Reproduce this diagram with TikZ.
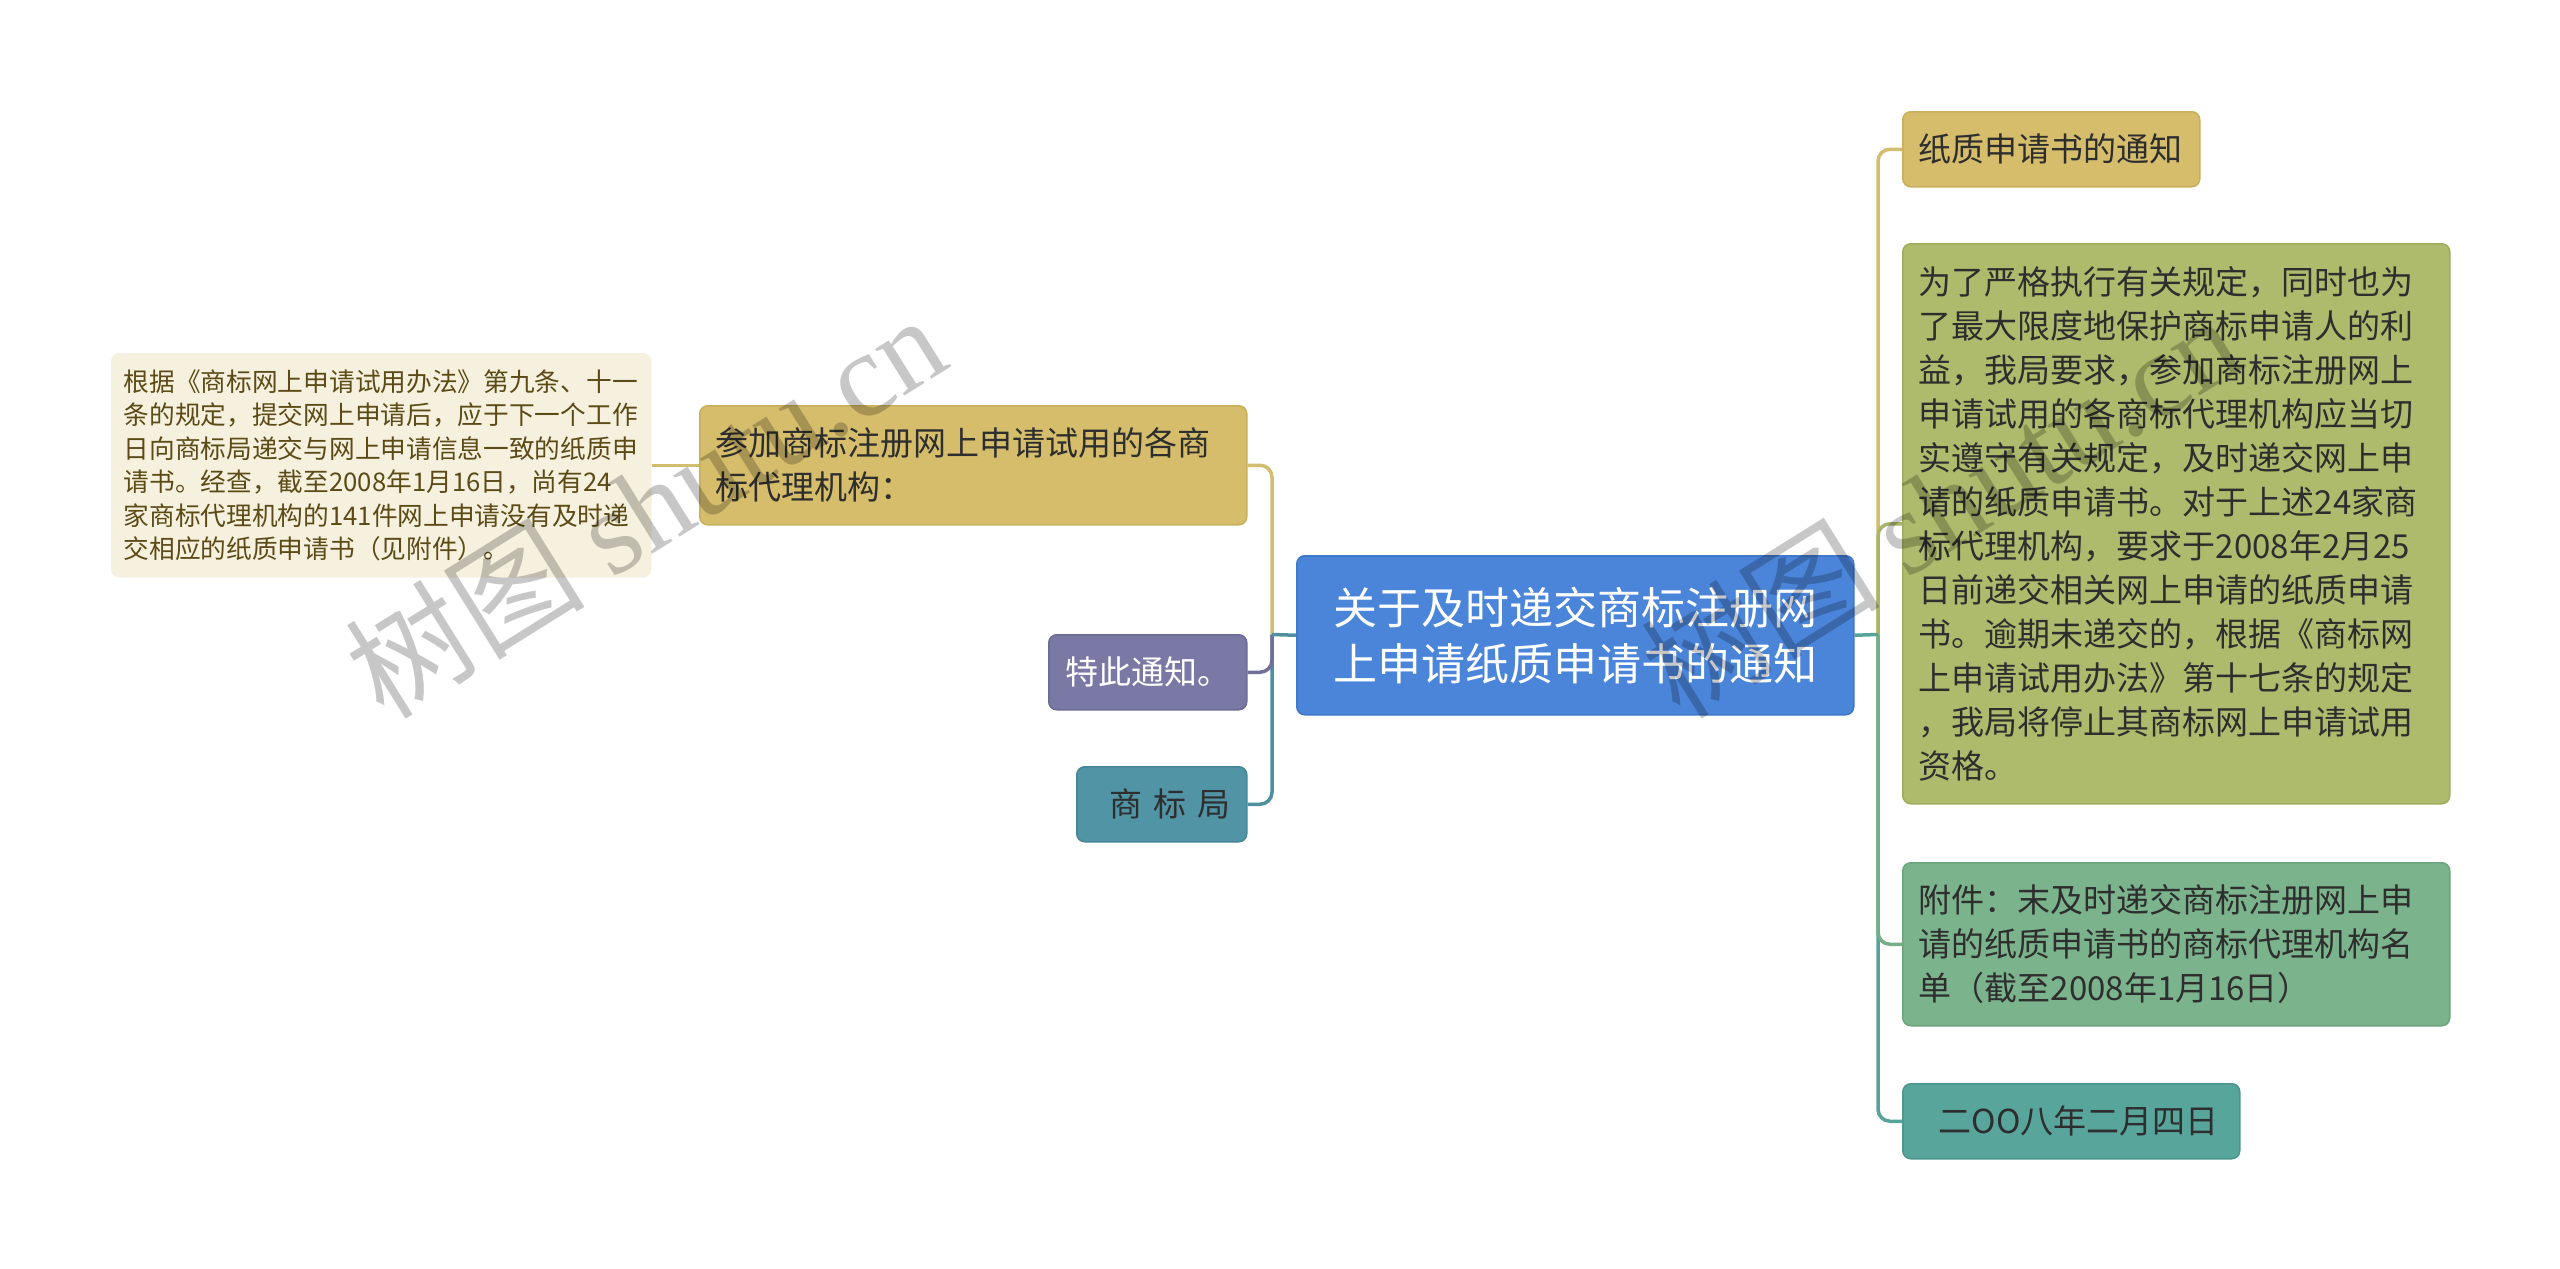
\documentclass[tikz,border=0pt]{standalone}
\usepackage{fontspec}
\setmainfont{Noto Sans CJK SC}
\newfontfamily\wmserif{Liberation Serif}
\definecolor{cblue}{HTML}{4A85DA}
\definecolor{cblueD}{HTML}{3F77C8}
\definecolor{cgold}{HTML}{D5BD6B}
\definecolor{cgoldD}{HTML}{C8AF5A}
\definecolor{cpurple}{HTML}{7A79A5}
\definecolor{cpurpleD}{HTML}{6C6B96}
\definecolor{cteal}{HTML}{5094A6}
\definecolor{ctealD}{HTML}{448597}
\definecolor{ccream}{HTML}{F5F1DE}
\definecolor{colive}{HTML}{AEBA6C}
\definecolor{coliveD}{HTML}{9FAC5E}
\definecolor{cgreen}{HTML}{7BB38C}
\definecolor{cgreenD}{HTML}{6CA57D}
\definecolor{cteal2}{HTML}{58A59C}
\definecolor{cteal2D}{HTML}{4B978E}
\definecolor{ldark}{HTML}{2E2E2E}
\definecolor{lbrown}{HTML}{5C4B17}
\definecolor{kgold}{HTML}{D3BD6F}
\definecolor{kteal}{HTML}{4F8FA0}
\definecolor{kpurple}{HTML}{716F9A}
\definecolor{kteal2}{HTML}{57A39A}
\definecolor{kolive}{HTML}{A9B56C}
\definecolor{kgreen}{HTML}{74AF88}
\begin{document}
\begin{tikzpicture}[x=1pt,y=-1pt,
  box/.style={rounded corners=8pt, line width=1.5pt, anchor=north west,
    inner xsep=16pt, inner ysep=0pt, align=left, text=ldark,
    font=\fontsize{33pt}{44pt}\selectfont},
  conn/.style={line width=3.5pt},
  wm/.style={text=black, opacity=0.22, rotate=32,
    font=\fontsize{120pt}{130pt}\selectfont}]
\useasboundingbox (0,0) rectangle (2560,1269);

% nodes
\node[box, fill=cblue, draw=cblueD, text=white, align=center,
  minimum width=557pt, minimum height=159pt, text width=525pt,
  font=\fontsize{44pt}{56pt}\selectfont] (c) at (1296,555)
  {关于及时递交商标注册网\\上申请纸质申请书的通知};

\node[box, fill=cgold, draw=cgoldD, minimum width=547pt, minimum height=119pt,
  text width=515pt] (l1) at (699,405)
  {参加商标注册网上申请试用的各商\\标代理机构：};

\node[box, fill=cpurple, draw=cpurpleD, text=white, align=center,
  minimum width=198pt, minimum height=75pt, text width=166pt] (l2) at (1048,634)
  {特此通知。};

\node[box, fill=cteal, draw=ctealD, text=ldark, align=right,
  minimum width=170pt, minimum height=75pt, text width=138pt] (l3) at (1076,766)
  {商 标 局};

\node[box, fill=ccream, draw=ccream, text=lbrown, inner xsep=12pt,
  minimum width=539pt, minimum height=223pt, text width=515pt,
  font=\fontsize{25.7pt}{33.5pt}\selectfont] (fl) at (111,353)
  {根据《商标网上申请试用办法》第九条、十一\\条的规定，提交网上申请后，应于下一个工作\\日向商标局递交与网上申请信息一致的纸质申\\请书。经查，截至2008年1月16日，尚有24\\家商标代理机构的141件网上申请没有及时递\\交相应的纸质申请书（见附件）。};

\node[box, fill=cgold, draw=cgoldD, minimum width=297pt, minimum height=75pt,
  text width=265pt] (r1) at (1902,111)
  {纸质申请书的通知};

\node[box, fill=colive, draw=coliveD, minimum width=547pt, minimum height=560pt,
  text width=515pt] (r2) at (1902,243)
  {为了严格执行有关规定，同时也为\\了最大限度地保护商标申请人的利\\益，我局要求，参加商标注册网上\\申请试用的各商标代理机构应当切\\实遵守有关规定，及时递交网上申\\请的纸质申请书。对于上述24家商\\标代理机构，要求于2008年2月25\\日前递交相关网上申请的纸质申请\\书。逾期未递交的，根据《商标网\\上申请试用办法》第十七条的规定\\，我局将停止其商标网上申请试用\\资格。};

\node[box, fill=cgreen, draw=cgreenD, minimum width=547pt, minimum height=163pt,
  text width=515pt] (r3) at (1902,862)
  {附件：末及时递交商标注册网上申\\请的纸质申请书的商标代理机构名\\单（截至2008年1月16日）};

\node[box, fill=cteal2, draw=cteal2D, minimum width=337pt, minimum height=75pt,
  text width=305pt] (r4) at (1902,1083)
  {\hspace*{20pt}二OO八年二月四日};

% bus points
\coordinate (lb) at (1272,634.5);
\coordinate (rb) at (1878,634.5);

% left connectors
\begin{scope}[on background layer/.style={}]
\end{scope}
\draw[conn, draw=kgold, rounded corners=12pt] (lb) |- (l1.east);
\draw[conn, draw=kteal, rounded corners=12pt] (lb) |- (l3.east);
\draw[conn, draw=kpurple, rounded corners=12pt] (lb) |- (l2.east);
\draw[conn, draw=kteal] (c.west) -- (lb);
\draw[conn, draw=kgold] (l1.west) -- (fl.east);

% right connectors
\draw[conn, draw=kgold, rounded corners=12pt] (rb) |- (r1.west);
\draw[conn, draw=kteal2, rounded corners=12pt] (rb) |- (r4.west);
\draw[conn, draw=kolive, rounded corners=12pt] (rb) |- (r2.west);
\draw[conn, draw=kgreen, rounded corners=12pt] (rb) |- (r3.west);
\draw[conn, draw=kteal2] (c.east) -- (rb);

% watermarks
\node[wm] (wm1) at (645,505) {树图 {\wmserif shutu.cn}};
\node[wm] (wm2) at (1940,505) {树图 {\wmserif shutu.cn}};
\end{tikzpicture}
\end{document}
